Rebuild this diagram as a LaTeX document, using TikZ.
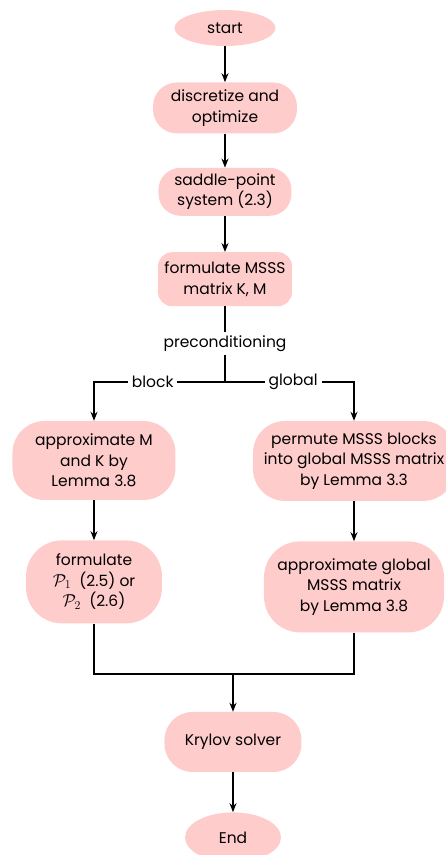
\documentclass[tikz,border=0pt]{standalone}
\usepackage{amsmath,amssymb}
\usepackage{fontspec}
\setmainfont{Poppins}
\usepackage{tikz}
\usetikzlibrary{shapes.geometric, arrows.meta, positioning, calc}
\tikzset{
    stepbox/.style={rectangle, fill=red!20, rounded corners=#1, align=center, inner sep=2pt, font=\fontsize{15.5}{20.5}\selectfont},
    stepbox/.default=20pt,
    terminal/.style={ellipse, fill=red!20, inner sep=2pt, font=\fontsize{15.5}{20.5}\selectfont},
    branch/.style={fill=white, inner sep=4pt, font=\fontsize{15.5}{20.5}\selectfont},
    arrow/.style={line width=1.6pt, -{Stealth[length=9pt,width=7pt]}},
    link/.style={line width=1.6pt}
}
\newcommand{\bigcal}[1]{{\fontsize{18}{20.5}\selectfont$\mathcal{P}_{#1}$}}

\begin{document}
\begin{tikzpicture}[x=1pt, y=1pt, node distance=36pt, >=stealth]
    \useasboundingbox (-225,28) rectangle (220,-827);
    \node (start) [terminal, minimum width=101pt, minimum height=36pt] {start};
    \node (disc) [stepbox=24pt, minimum width=144pt, minimum height=51pt, below=36pt of start] {discretize and\\optimize};
    \node (saddle) [stepbox=22pt, minimum width=133pt, minimum height=48pt, below=34pt of disc] {saddle-point\\system (2.3)};
    \node (msss) [stepbox=14pt, minimum width=134pt, minimum height=54pt, below=36pt of saddle] {formulate MSSS\\matrix K, M};
    \node (precond) [branch, fill=none, inner sep=3pt, below=26pt of msss] {preconditioning};
    \coordinate [below=27pt of precond] (split);

    \node (approxMK) [stepbox=32pt, minimum width=163pt, minimum height=79pt, below=39pt of split, xshift=-131pt] {approximate M\\and K by\\Lemma 3.8};
    \node (permute) [stepbox=32pt, minimum width=202pt, minimum height=80pt, below=39pt of split, xshift=129pt] {permute MSSS blocks\\into global MSSS matrix\\by Lemma 3.3};
    \node (formP) [stepbox=36pt, minimum width=136pt, minimum height=83pt, below=40pt of approxMK] {formulate\\\bigcal{1}\ \ (2.5) or\\\bigcal{2}\ \ (2.6)};
    \node (approxG) [stepbox=36pt, minimum width=180pt, minimum height=91pt, below=40pt of permute] {approximate global\\MSSS matrix\\by Lemma 3.8};

    \coordinate (join) at ($(split)+(8,-292)$);
    \node (krylov) [stepbox=28pt, minimum width=137pt, minimum height=60pt, below=38pt of join] {Krylov solver};
    \node (end) [terminal, minimum width=96pt, minimum height=50pt, below=40pt of krylov] {End};

    \draw [arrow] (start) -- (disc);
    \draw [arrow] (disc) -- (saddle);
    \draw [arrow] (saddle) -- (msss);
    \draw [link] (msss) -- (precond);
    \draw [link] (precond) -- (split);
    \draw [arrow] (split) -| node [branch, pos=0.276] {block} (approxMK);
    \draw [arrow] (split) -| node [branch, pos=0.264] {global} (permute);
    \draw [arrow] (approxMK) -- (formP);
    \draw [arrow] (permute) -- (approxG);
    \draw [link] (formP) |- (join);
    \draw [link] (approxG) |- (join);
    \draw [arrow] (join) -- (krylov);
    \draw [arrow] (krylov) -- (end);
\end{tikzpicture}
\end{document}
